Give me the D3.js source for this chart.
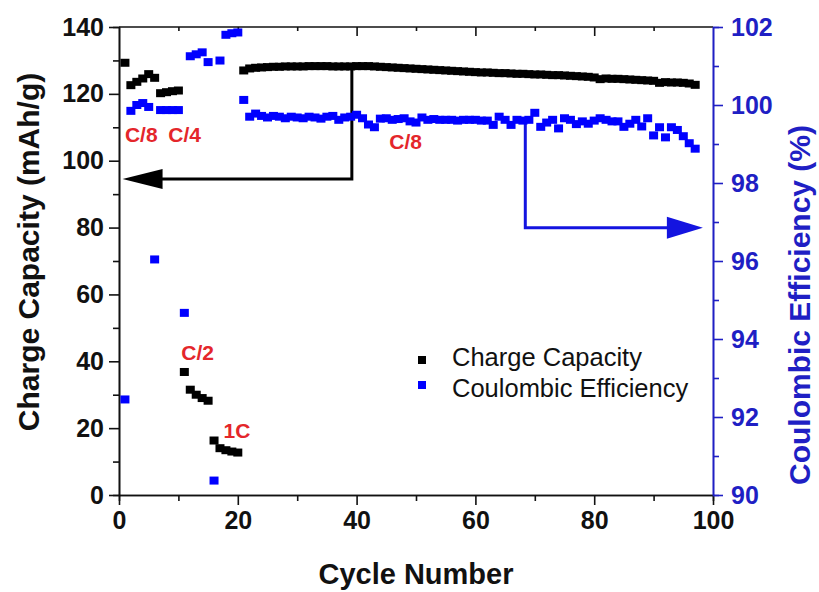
<!DOCTYPE html>
<html>
<head>
<meta charset="utf-8">
<script src="https://cdn.jsdelivr.net/npm/d3@7"></script>
<style>
  html, body { margin: 0; padding: 0; background: #fff; }
  svg { display: block; }
  text { font-family: "Liberation Sans", Arial, sans-serif; }
</style>
</head>
<body>
<svg id="chart" width="819" height="592"></svg>
<script>
// ---------------- data ----------------
const cycles = [1,2,3,4,5,6,7,8,9,10,11,12,13,14,15,16,17,18,19,20,
  21,22,23,24,25,26,27,28,29,30,31,32,33,34,35,36,37,38,39,40,
  41,42,43,44,45,46,47,48,49,50,51,52,53,54,55,56,57,58,59,60,
  61,62,63,64,65,66,67,68,69,70,71,72,73,74,75,76,77,78,79,80,
  81,82,83,84,85,86,87,88,89,90,91,92,93,94,95,96,97];

const chargeCapacity = [129.3,122.6,123.6,124.6,125.9,124.8,120.2,120.5,120.8,121.0,
  36.8,31.5,30.0,29.0,28.2,16.3,14.0,13.4,13.0,12.7,
  127.0,127.6,127.8,127.9,128.0,128.1,128.1,128.2,128.2,128.2,
  128.2,128.3,128.3,128.3,128.3,128.2,128.2,128.2,128.2,128.3,
  128.3,128.3,128.2,128.1,128.0,127.9,127.8,127.7,127.6,127.5,
  127.4,127.3,127.2,127.1,127.0,126.9,126.8,126.7,126.6,126.5,
  126.4,126.4,126.3,126.2,126.2,126.1,126.0,126.0,125.9,125.8,
  125.8,125.7,125.6,125.6,125.5,125.4,125.3,125.2,125.1,124.9,
  124.4,124.6,124.5,124.5,124.4,124.3,124.2,124.1,124.0,123.9,
  123.3,123.5,123.4,123.4,123.3,123.1,122.7];

const coulombicEfficiency = [92.45,99.85,100.0,100.05,99.95,96.04,99.87,99.87,99.87,99.87,
  94.67,101.25,101.3,101.35,101.1,90.37,101.14,101.8,101.84,101.86,
  100.13,99.7,99.78,99.72,99.68,99.72,99.7,99.66,99.7,99.68,
  99.66,99.7,99.68,99.65,99.7,99.72,99.62,99.68,99.7,99.75,
  99.66,99.5,99.43,99.65,99.66,99.62,99.64,99.66,99.58,99.55,
  99.68,99.62,99.64,99.62,99.62,99.62,99.6,99.62,99.62,99.62,
  99.6,99.6,99.49,99.7,99.62,99.49,99.62,99.6,99.62,99.8,
  99.44,99.55,99.62,99.4,99.66,99.62,99.51,99.58,99.52,99.6,
  99.66,99.62,99.58,99.58,99.44,99.52,99.62,99.45,99.66,99.22,
  99.43,99.17,99.43,99.36,99.2,99.02,98.88];

const xMajorTicks = [0,20,40,60,80,100];
const xMinorTicks = [10,30,50,70,90];
const yLeftMajorTicks = [0,20,40,60,80,100,120,140];
const yLeftMinorTicks = [10,30,50,70,90,110,130];
const yRightMajorTicks = [90,92,94,96,98,100,102];
const yRightMinorTicks = [91,93,95,97,99,101];

const seriesNames = ["Charge Capacity", "Coulombic Efficiency"];
// rate labels: [text, cycle, value on left axis]
const rateLabels = [["C/8",1,105.5],["C/4",8.3,105.5],["C/2",10.5,40.5],["1C",17.6,17],["C/8",45.5,103.6]];
// arrow annotations (data coords): left arrow -> capacity axis, right arrow -> CE axis
const leftArrow = { fromCycle: 39.2, fromCap: 127.8, elbowCap: 94.5, toCycle: 0.6 };
const rightArrow = { fromCycle: 68.4, fromCE: 99.62, elbowCE: 96.85, toCycle: 98.3 };

// ---------------- layout ----------------
const L = 119, R = 713, T = 27, B = 495;
const svg = d3.select("#chart");
const x = d3.scaleLinear().domain([0,100]).range([L,R]);
const yL = d3.scaleLinear().domain([0,140]).range([B,T]);
const yR = d3.scaleLinear().domain([90,102]).range([B,T]);

const BLUE_AX = "#1f1fc4";
const RED = "#e4262b";

// frame: top line
svg.append("line").attr("x1",L).attr("x2",R).attr("y1",T).attr("y2",T)
  .attr("stroke","#111").attr("stroke-width",1.6);

function styleAxis(g, color, fs) {
  g.selectAll("path").attr("stroke", color).attr("stroke-width", 1.6);
  g.selectAll("line").attr("stroke", color).attr("stroke-width", 1.6);
  g.selectAll("text").attr("fill", color).attr("font-size", fs).attr("font-weight","bold")
    .attr("font-family", '"Liberation Sans", Arial, sans-serif');
}

// bottom axis
const gxMinor = svg.append("g").attr("transform",`translate(0,${B})`)
  .call(d3.axisBottom(x).tickValues(xMinorTicks).tickSize(6).tickFormat(""));
styleAxis(gxMinor, "#111", 25);
const gx = svg.append("g").attr("transform",`translate(0,${B})`)
  .call(d3.axisBottom(x).tickValues(xMajorTicks).tickSize(10).tickPadding(6).tickSizeOuter(0));
styleAxis(gx, "#111", 25);

// top axis ticks (inward)
const gtMinor = svg.append("g").attr("transform",`translate(0,${T})`)
  .call(d3.axisBottom(x).tickValues(xMinorTicks).tickSize(4).tickFormat(""));
styleAxis(gtMinor, "#111", 25);
gtMinor.select("path").remove();
const gtMajor = svg.append("g").attr("transform",`translate(0,${T})`)
  .call(d3.axisBottom(x).tickValues(xMajorTicks.slice(1,5)).tickSize(9).tickFormat(""));
styleAxis(gtMajor, "#111", 25);
gtMajor.select("path").remove();

// left axis
const glMinor = svg.append("g").attr("transform",`translate(${L},0)`)
  .call(d3.axisLeft(yL).tickValues(yLeftMinorTicks).tickSize(6).tickFormat(""));
styleAxis(glMinor, "#111", 25);
const gl = svg.append("g").attr("transform",`translate(${L},0)`)
  .call(d3.axisLeft(yL).tickValues(yLeftMajorTicks).tickSize(10).tickPadding(5).tickSizeOuter(0));
styleAxis(gl, "#111", 25);

// right axis
const grMinor = svg.append("g").attr("transform",`translate(${R},0)`)
  .call(d3.axisRight(yR).tickValues(yRightMinorTicks).tickSize(6).tickFormat(""));
styleAxis(grMinor, BLUE_AX, 25);
const gr = svg.append("g").attr("transform",`translate(${R},0)`)
  .call(d3.axisRight(yR).tickValues(yRightMajorTicks).tickSize(10).tickPadding(8).tickSizeOuter(0));
styleAxis(gr, BLUE_AX, 25);

// axis titles
svg.append("text").attr("transform",`translate(39,252) rotate(-90)`)
  .attr("text-anchor","middle").attr("font-size",30).attr("font-weight","bold")
  .attr("fill","#111").text("Charge Capacity (mAh/g)");
svg.append("text").attr("transform",`translate(810,305) rotate(-90)`)
  .attr("text-anchor","middle").attr("font-size",30).attr("font-weight","bold")
  .attr("fill",BLUE_AX).text("Coulombic Efficiency (%)");
svg.append("text").attr("x",(L+R)/2 + 0).attr("y",584)
  .attr("text-anchor","middle").attr("font-size",29).attr("font-weight","bold")
  .attr("fill","#111").text("Cycle Number");

// arrows
const aw = 3;
svg.append("path")
  .attr("d", `M${x(leftArrow.fromCycle)},${yL(leftArrow.fromCap)} V${yL(leftArrow.elbowCap)} H${x(leftArrow.toCycle)+38}`)
  .attr("fill","none").attr("stroke","#000").attr("stroke-width",aw);
svg.append("path")
  .attr("d", `M${x(leftArrow.toCycle)},${yL(leftArrow.elbowCap)} L${x(leftArrow.toCycle)+40},${yL(leftArrow.elbowCap)-10} L${x(leftArrow.toCycle)+40},${yL(leftArrow.elbowCap)+10} Z`)
  .attr("fill","#000");
svg.append("path")
  .attr("d", `M${x(rightArrow.fromCycle)},${yR(rightArrow.fromCE)} V${yR(rightArrow.elbowCE)} H${x(rightArrow.toCycle)-34}`)
  .attr("fill","none").attr("stroke","#1414e0").attr("stroke-width",aw);
svg.append("path")
  .attr("d", `M${x(rightArrow.toCycle)},${yR(rightArrow.elbowCE)} L${x(rightArrow.toCycle)-36},${yR(rightArrow.elbowCE)-11} L${x(rightArrow.toCycle)-36},${yR(rightArrow.elbowCE)+11} Z`)
  .attr("fill","#1414e0");

// data squares
const SW = 9, SH = 8;
svg.append("g").selectAll("rect").data(cycles.map((c,i)=>[c,coulombicEfficiency[i]]))
  .join("rect")
  .attr("x", d=>x(d[0])-SW/2).attr("y", d=>yR(d[1])-SH/2)
  .attr("width",SW).attr("height",SH).attr("fill","#0000ff");
svg.append("g").selectAll("rect").data(cycles.map((c,i)=>[c,chargeCapacity[i]]))
  .join("rect")
  .attr("x", d=>x(d[0])-SW/2).attr("y", d=>yL(d[1])-SH/2)
  .attr("width",SW).attr("height",SH).attr("fill","#000");

// rate labels
svg.append("g").selectAll("text").data(rateLabels).join("text")
  .attr("x", d=>x(d[1])).attr("y", d=>yL(d[2]))
  .attr("font-size",21).attr("font-weight","bold").attr("fill",RED)
  .text(d=>d[0]);

// legend
const leg = svg.append("g");
const legColors = ["#000","#0000ff"];
const legSquareY = [360, 385];
const legTextY = [366, 397];
seriesNames.forEach((name,i)=>{
  leg.append("rect").attr("x",418).attr("y",legSquareY[i]-4).attr("width",8).attr("height",8).attr("fill",legColors[i]);
  leg.append("text").attr("x",452).attr("y",legTextY[i]).attr("font-size",25.5).attr("fill","#111").text(name);
});
</script>
</body>
</html>
